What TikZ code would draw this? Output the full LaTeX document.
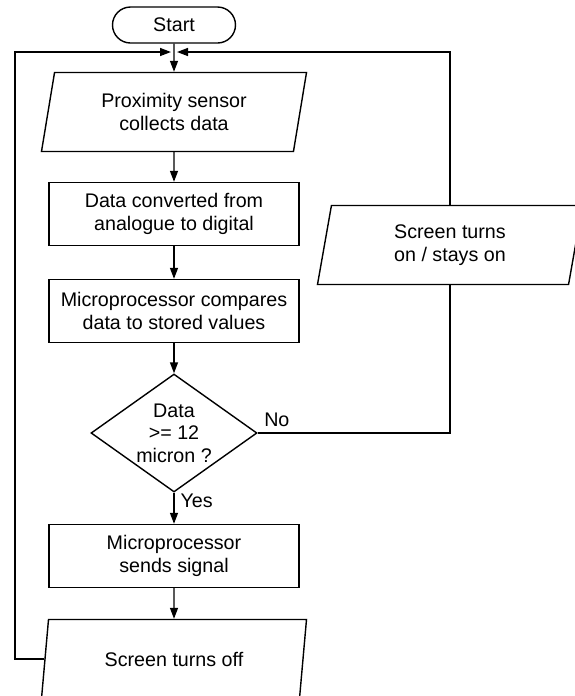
\documentclass[tikz,border=0pt]{standalone}
\usepackage{fontspec}
\setmainfont{Liberation Sans}
\usetikzlibrary{shapes.geometric,arrows.meta}

\begin{document}
\begin{tikzpicture}[x=0.2mm,y=-0.2mm,line width=0.8pt,
    every node/.style={font=\fontsize{11.2}{12.8}\selectfont,align=center},
    term/.style={draw,rounded corners=3.6mm,minimum width=24.6mm,minimum height=7.2mm},
    proc/.style={draw,minimum width=50mm,minimum height=12.6mm},
    io/.style={draw,trapezium,trapezium left angle=75,trapezium right angle=105,
        trapezium stretches body=true,minimum width=53mm,minimum height=15.8mm},
    test/.style={draw,diamond,aspect=1.4,inner sep=0pt,minimum width=33.2mm,minimum height=23.6mm},
    arr/.style={-{Triangle[length=2.2mm,width=1.6mm]}}]

    \useasboundingbox (0,0) rectangle (575,696);

    \node[term] (start) at (174,25) {Start};
    \node[io] (sense) at (174,112) {Proximity sensor\\collects data};
    \node[proc] (convert) at (174,214) {Data converted from\\analogue to digital};
    \node[proc] (compare) at (174,311) {Microprocessor compares\\data to stored values};
    \node[test] (decide) at (174,433) {Data\\>= 12\\micron ?};
    \node[proc] (signal) at (174,556) {Microprocessor\\sends signal};
    \node[io] (off) at (174,659) {Screen turns off};
    \node[io] (on) at (450,245) {Screen turns\\on / stays on};

    \coordinate (join) at (174,52);
    \coordinate (loopL) at (15,52);

    \foreach \a/\b in {start/sense,sense/convert,convert/compare,compare/decide,signal/off}
    {
        \draw[arr] (\a) -- (\b);
    }

    \draw[arr] (decide) -- node[right,pos=0.25] {Yes} (signal);
    \draw (decide.east) node[above right] {No} -| (on.south);
    \draw[arr] (on.north) |- ([xshift=0.6mm]join);
    \draw[arr] (off.west) -| (loopL) -- ([xshift=-0.6mm]join);

\end{tikzpicture}
\end{document}
